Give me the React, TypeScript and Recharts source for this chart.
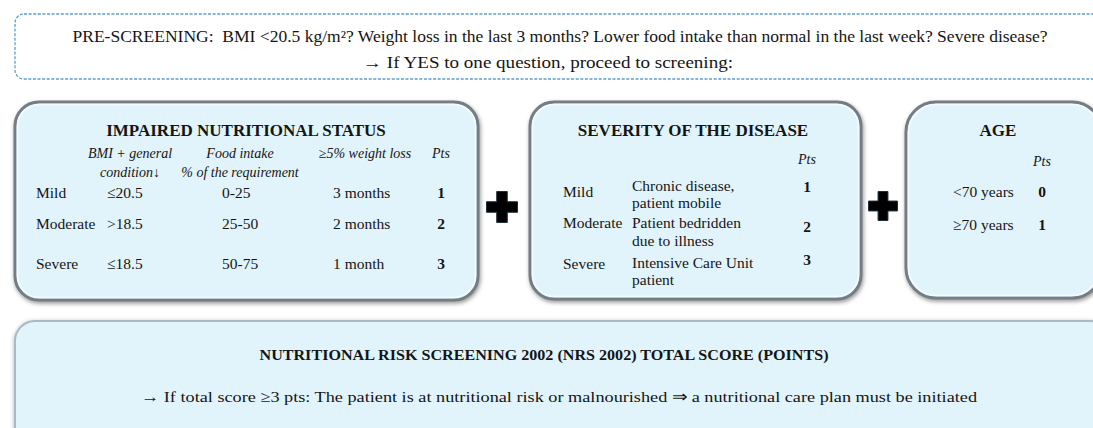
import React from "react";
import { ScatterChart, Scatter, XAxis, YAxis, ReferenceArea } from "recharts";

// ---------- content ----------
const preScreeningLines = [
  "PRE-SCREENING:  BMI <20.5 kg/m²? Weight loss in the last 3 months? Lower food intake than normal in the last week? Severe disease?",
  "→ If YES to one question, proceed to screening:",
];
const nutritionTitle = "IMPAIRED NUTRITIONAL STATUS";
const nutritionHeaders = [
  ["BMI + general", "condition↓"],
  ["Food intake", "% of the requirement"],
  ["≥5% weight loss"],
  ["Pts"],
];
const severityLevels = ["Mild", "Moderate", "Severe"];
const bmiValues = ["≤20.5", ">18.5", "≤18.5"];
const foodIntake = ["0-25", "25-50", "50-75"];
const weightLoss = ["3 months", "2 months", "1 month"];
const nutritionPts = [1, 2, 3];
const diseaseTitle = "SEVERITY OF THE DISEASE";
const diseaseDescriptions = [
  ["Chronic disease,", "patient mobile"],
  ["Patient bedridden", "due to illness"],
  ["Intensive Care Unit", "patient"],
];
const diseasePts = [1, 2, 3];
const ageTitle = "AGE";
const ageGroups = ["<70 years", "≥70 years"];
const agePts = [0, 1];
const ptsLabel = "Pts";
const totalTitle = "NUTRITIONAL RISK SCREENING 2002 (NRS 2002) TOTAL SCORE (POINTS)";
const totalNote =
  "→ If total score ≥3 pts: The patient is at nutritional risk or malnourished ⇒ a nutritional care plan must be initiated";

// ---------- layout ----------
const W = 1093;
const H = 428;
const FONT = "'Liberation Serif', 'Times New Roman', serif";
const INK = "#151515";

type T = {
  x: number;
  y: number;
  text: string;
  size?: number;
  bold?: boolean;
  italic?: boolean;
  anchor?: "start" | "middle" | "end";
  len?: number;
};

const texts: T[] = [];
// pre-screening
texts.push({ x: 560, y: 36, text: preScreeningLines[0], size: 16, anchor: "middle", len: 975 });
texts.push({ x: 548, y: 62, text: preScreeningLines[1], size: 16, anchor: "middle", len: 370 });

// nutrition box
texts.push({ x: 246, y: 130, text: nutritionTitle, size: 17, bold: true, anchor: "middle" });
const nutHeadX = [130, 240, 365, 441];
nutritionHeaders.forEach((lines, i) =>
  lines.forEach((l, j) =>
    texts.push({ x: nutHeadX[i], y: 153 + j * 19, text: l, size: 14, italic: true, anchor: "middle" })
  )
);
const nutRowY = [193, 224, 264];
severityLevels.forEach((s, i) => {
  texts.push({ x: 36, y: nutRowY[i], text: s, size: 15.5 });
  texts.push({ x: 107, y: nutRowY[i], text: bmiValues[i], size: 15.5 });
  texts.push({ x: 222, y: nutRowY[i], text: foodIntake[i], size: 15.5 });
  texts.push({ x: 333, y: nutRowY[i], text: weightLoss[i], size: 15.5 });
  texts.push({ x: 441, y: nutRowY[i], text: String(nutritionPts[i]), size: 15.5, bold: true, anchor: "middle" });
});

// disease box
texts.push({ x: 693, y: 130, text: diseaseTitle, size: 17, bold: true, anchor: "middle" });
texts.push({ x: 807, y: 159, text: ptsLabel, size: 14, italic: true, anchor: "middle" });
const disLabelY = [192, 223, 264];
const disDescY = [
  [186, 203],
  [223, 241],
  [263, 280],
];
const disPtsY = [187, 227, 260];
severityLevels.forEach((s, i) => {
  texts.push({ x: 563, y: disLabelY[i], text: s, size: 15.5 });
  diseaseDescriptions[i].forEach((d, j) => texts.push({ x: 632, y: disDescY[i][j], text: d, size: 15.5 }));
  texts.push({ x: 807, y: disPtsY[i], text: String(diseasePts[i]), size: 15.5, bold: true, anchor: "middle" });
});

// age box
texts.push({ x: 998, y: 130, text: ageTitle, size: 17, bold: true, anchor: "middle" });
texts.push({ x: 1042, y: 161, text: ptsLabel, size: 14, italic: true, anchor: "middle" });
const ageY = [192, 225];
ageGroups.forEach((a, i) => {
  texts.push({ x: 953, y: ageY[i], text: a, size: 15.5 });
  texts.push({ x: 1042, y: ageY[i], text: String(agePts[i]), size: 15.5, bold: true, anchor: "middle" });
});

// total box
texts.push({ x: 544, y: 355, text: totalTitle, size: 15, bold: true, anchor: "middle", len: 569 });
texts.push({ x: 559, y: 397, text: totalNote, size: 15.5, anchor: "middle", len: 836 });

const plusSigns = [
  { x: 502, y: 207, s: 31 },
  { x: 883, y: 206, s: 29 },
];

const panels = [
  { x1: 15, x2: 478, y1: 102, y2: 300, r: 24 },
  { x1: 530, x2: 861, y1: 102, y2: 299, r: 24 },
  { x1: 906, x2: 1102, y1: 102, y2: 298, r: 30 },
];

// ---------- shapes ----------
const PanelShape = (props: any) => {
  const { x, y, width, height, r } = props;
  return (
    <g>
      <rect
        x={x}
        y={y}
        width={width}
        height={height}
        rx={r}
        ry={r}
        fill="#e2f4fb"
        stroke="#737e84"
        strokeWidth={3}
        style={{ filter: "drop-shadow(1.5px 2px 2px rgba(60,60,60,0.55))" }}
      />
      <rect
        x={x + 2.5}
        y={y + 2.5}
        width={width - 5}
        height={height - 5}
        rx={r - 2}
        ry={r - 2}
        fill="none"
        stroke="#f4fbfe"
        strokeWidth={1.5}
      />
    </g>
  );
};

const BottomShape = (props: any) => {
  const { x, y, width, height } = props;
  return (
    <g>
      <rect
        x={x}
        y={y}
        width={width}
        height={height}
        rx={20}
        ry={20}
        fill="#e2f4fb"
        stroke="#a9bac4"
        strokeWidth={2}
        style={{ filter: "drop-shadow(0px 1px 2px rgba(80,90,100,0.45))" }}
      />
    </g>
  );
};

const TopShape = (props: any) => {
  const { x, y, width, height } = props;
  return (
    <rect
      x={x}
      y={y}
      width={width}
      height={height}
      rx={9}
      ry={9}
      fill="#ffffff"
      stroke="#5b9fcc"
      strokeWidth={1.3}
      strokeDasharray="3 1.6"
    />
  );
};

const TextShape = (props: any) => {
  const { cx, cy, payload } = props;
  const p = payload as T;
  return (
    <text
      x={cx}
      y={cy}
      dy="0.35em"
      textAnchor={p.anchor || "start"}
      fontFamily={FONT}
      fontSize={p.size || 15}
      fontWeight={p.bold ? 700 : 400}
      fontStyle={p.italic ? "italic" : "normal"}
      fill={INK}
      style={{ whiteSpace: "pre" }}
      {...(p.len ? { textLength: p.len, lengthAdjust: "spacingAndGlyphs" } : {})}
    >
      {p.text}
    </text>
  );
};

const PlusShape = (props: any) => {
  const { cx, cy, payload } = props;
  const s = payload.s / 2;
  const a = payload.s * 0.17;
  const d = `M${cx - a},${cy - s} H${cx + a} V${cy - a} H${cx + s} V${cy + a} H${cx + a} V${cy + s} H${cx - a} V${cy + a} H${cx - s} V${cy - a} H${cx - a} Z`;
  return <path d={d} fill="#000" stroke="#1b2f3d" strokeWidth={1} />;
};

export default function App() {
  return (
    <div style={{ position: "absolute", left: 0, top: 0, width: W, height: H, background: "#fff" }}>
      <ScatterChart width={W} height={H} margin={{ top: 0, right: 0, bottom: 0, left: 0 }}>
        <XAxis type="number" dataKey="x" domain={[0, W]} hide allowDataOverflow />
        <YAxis type="number" dataKey="y" domain={[0, H]} reversed hide allowDataOverflow />
        <ReferenceArea x1={15} x2={1110} y1={14} y2={79} ifOverflow="visible" shape={<TopShape />} />
        {panels.map((p, i) => (
          <ReferenceArea
            key={i}
            x1={p.x1}
            x2={p.x2}
            y1={p.y1}
            y2={p.y2}
            ifOverflow="visible"
            shape={(sp: any) => <PanelShape {...sp} r={p.r} />}
          />
        ))}
        <ReferenceArea x1={15} x2={1110} y1={321} y2={450} ifOverflow="visible" shape={<BottomShape />} />
        <Scatter data={plusSigns} shape={<PlusShape />} isAnimationActive={false} />
        <Scatter data={texts} shape={<TextShape />} isAnimationActive={false} />
      </ScatterChart>
    </div>
  );
}
